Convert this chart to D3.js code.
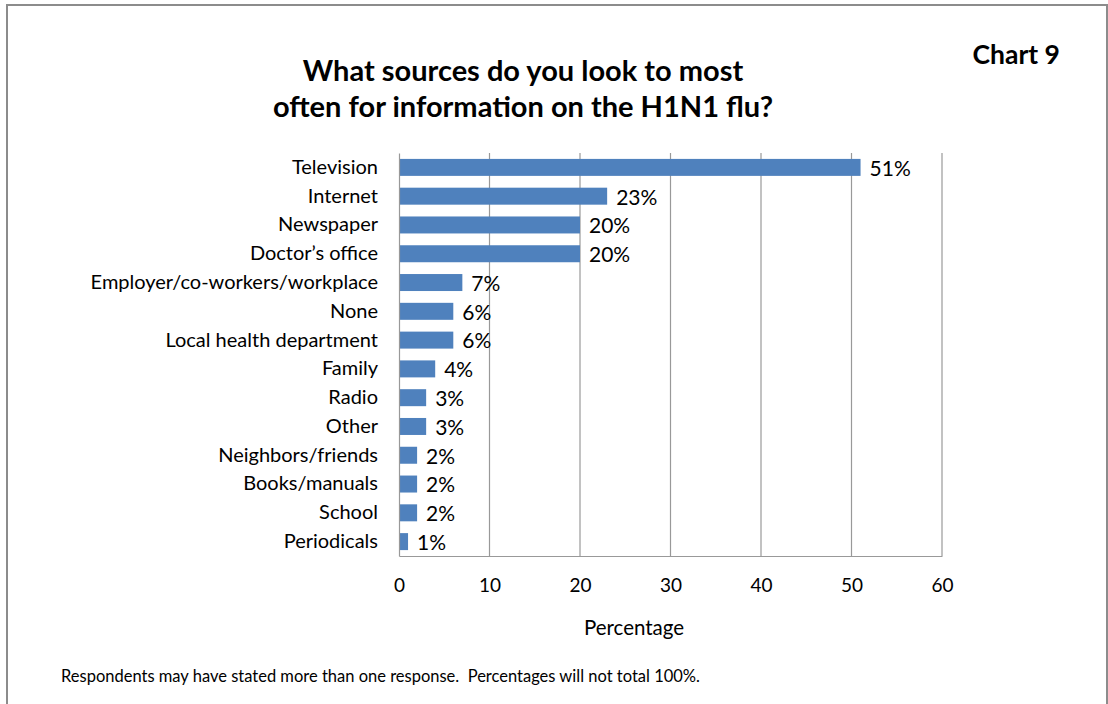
<!DOCTYPE html>
<html>
<head>
<meta charset="utf-8">
<script src="https://cdn.jsdelivr.net/npm/d3@7"></script>
<style>
  html, body { margin: 0; padding: 0; background: #fff; }
  svg { display: block; }
  text { font-family: Lato, "Open Sans", sans-serif; fill: #000; white-space: pre; }
</style>
</head>
<body>
<svg id="chart" width="1108" height="704"></svg>
<script>
// Sources of H1N1 flu information (percent of respondents)
const categories = [
  "Television", "Internet", "Newspaper", "Doctor\u2019s office",
  "Employer/co-workers/workplace", "None", "Local health department",
  "Family", "Radio", "Other", "Neighbors/friends", "Books/manuals",
  "School", "Periodicals"
];
const values = [51, 23, 20, 20, 7, 6, 6, 4, 3, 3, 2, 2, 2, 1];
const xTicks = [0, 10, 20, 30, 40, 50, 60];
const titleLines = ["What sources do you look to most", "often for information on the H1N1 flu?"];
const chartNumber = "Chart 9";
const axisTitle = "Percentage";
const footnote = "Respondents may have stated more than one response.  Percentages will not total 100%.";

const svg = d3.select("#chart");
const textColor = "#1a1a1a";

// outer frame
svg.append("rect")
  .attr("x", 7).attr("y", 5)
  .attr("width", 1100).attr("height", 720)
  .attr("fill", "none").attr("stroke", "#8c8c8c").attr("stroke-width", 2);

const plot = { left: 399, right: 942, top: 153, bottom: 556 };

const x = d3.scaleLinear().domain([0, 60]).range([plot.left, plot.right]);
const y = d3.scaleBand().domain(categories).range([plot.top, plot.bottom]).paddingInner(0.41).paddingOuter(0.205);

// vertical gridlines
svg.append("g")
  .selectAll("line")
  .data(xTicks.slice(1))
  .join("line")
  .attr("x1", d => x(d)).attr("x2", d => x(d))
  .attr("y1", plot.top).attr("y2", plot.bottom)
  .attr("stroke", "#999").attr("stroke-width", 1.2);

// bars
svg.append("g")
  .selectAll("rect")
  .data(values)
  .join("rect")
  .attr("x", x(0))
  .attr("y", (d, i) => y(categories[i]))
  .attr("width", d => x(d) - x(0))
  .attr("height", y.bandwidth())
  .attr("fill", "#4F81BD");

// value labels
svg.append("g")
  .selectAll("text")
  .data(values)
  .join("text")
  .attr("x", d => x(d) + 9)
  .attr("y", (d, i) => y(categories[i]) + y.bandwidth() / 2 + 1)
  .attr("dy", "0.35em")
  .attr("font-size", 21)
  .attr("fill", textColor)
  .text(d => d + "%");

// x axis
const xAxis = svg.append("g")
  .attr("transform", `translate(0,${plot.bottom})`)
  .call(d3.axisBottom(x).tickValues(xTicks).tickSize(0).tickPadding(23));
xAxis.select(".domain").attr("stroke", "#999").attr("stroke-width", 1.2);
xAxis.selectAll("text").attr("font-size", 19).attr("fill", textColor)
  .style("font-family", "Lato, 'Open Sans', sans-serif");

// y axis
const yAxis = svg.append("g")
  .attr("transform", `translate(${plot.left},0)`)
  .call(d3.axisLeft(y).tickSize(0).tickPadding(21));
yAxis.select(".domain").attr("stroke", "#999").attr("stroke-width", 1.2);
yAxis.selectAll("text").attr("font-size", 20).attr("fill", textColor)
  .style("font-family", "Lato, 'Open Sans', sans-serif");

// axis title
svg.append("text")
  .attr("x", 634)
  .attr("y", 635)
  .attr("text-anchor", "middle")
  .attr("font-size", 20.5).attr("fill", textColor)
  .text(axisTitle);

// chart title
svg.append("g")
  .selectAll("text")
  .data(titleLines)
  .join("text")
  .attr("x", 523)
  .attr("y", (d, i) => 81 + i * 36)
  .attr("text-anchor", "middle")
  .attr("font-size", 29).attr("font-weight", "bold")
  .text(d => d);

svg.append("text")
  .attr("x", 1060).attr("y", 64)
  .attr("text-anchor", "end")
  .attr("font-size", 26.5).attr("font-weight", "bold")
  .text(chartNumber);

svg.append("text")
  .attr("x", 61).attr("y", 682)
  .attr("font-size", 16.5)
  .text(footnote);
</script>
</body>
</html>
